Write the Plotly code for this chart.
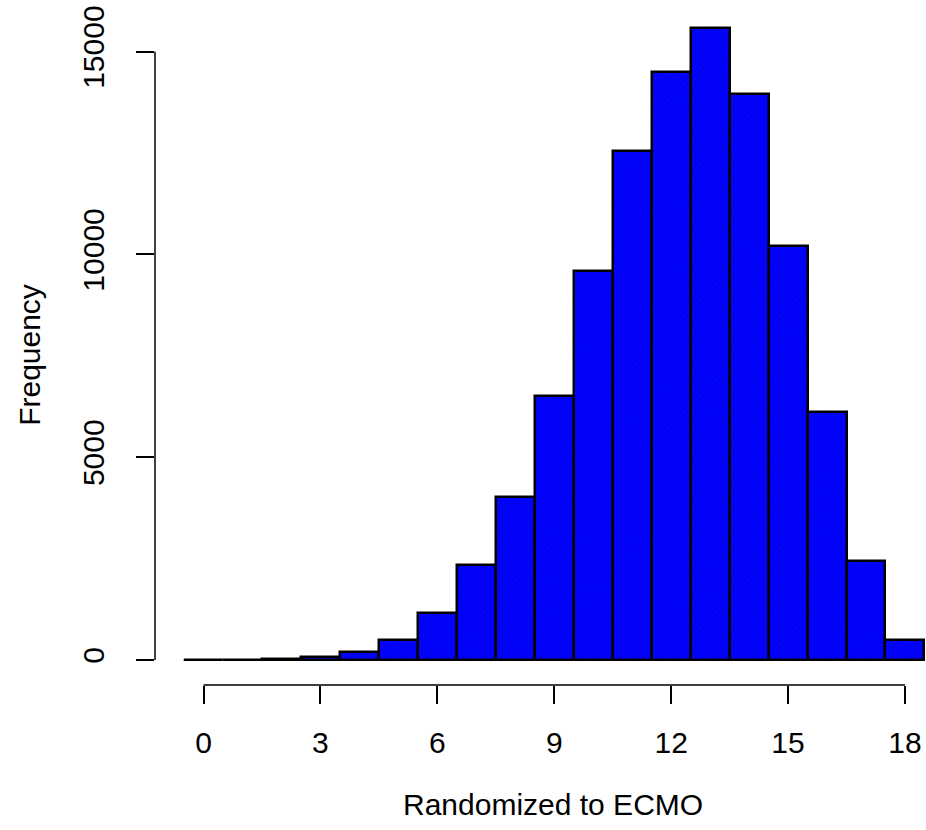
import plotly.graph_objects as go

# Data
bins = list(range(0, 19))
counts = [3, 8, 20, 65, 190, 488, 1163, 2353, 4021, 6500, 9580,
          12553, 14500, 15591, 13958, 10196, 6115, 2434, 505]
x_ticks = [0, 3, 6, 9, 12, 15, 18]
y_ticks = [0, 5000, 10000, 15000]
x_title = "Randomized to ECMO"
y_title = "Frequency"

FONT = "Liberation Sans, Arial, Helvetica, sans-serif"

fig = go.Figure()
fig.add_trace(go.Bar(
    x=bins, y=counts, width=1,
    marker=dict(
        color="#0000ff",
        line=dict(color="black", width=2.5),
        pattern=dict(shape="/", fgcolor="#2020a0", bgcolor="#0000ff",
                     size=4, solidity=0.2),
    ),
    showlegend=False, hoverinfo="skip",
))

W, H = 926, 830
L, R, T, B = 155, 0, 2, 145

fig.update_layout(
    width=W, height=H,
    margin=dict(l=L, r=R, t=T, b=B),
    plot_bgcolor="white", paper_bgcolor="white",
    font=dict(family=FONT, size=30, color="black"),
    bargap=0,
    xaxis=dict(range=[-1.245, 18.54], tickvals=x_ticks, ticks="outside",
               ticklen=18, tickwidth=1.5, tickcolor="black",
               showgrid=False, zeroline=False, showline=False,
               ticklabelstandoff=13),
    yaxis=dict(range=[-616, 16224], tickvals=y_ticks,
               ticktext=[str(v) for v in y_ticks], ticks="outside",
               ticklen=18, tickwidth=1.5, tickcolor="black", tickangle=-90,
               showgrid=False, zeroline=False, showline=False,
               ticklabelstandoff=20),
    shapes=[
        dict(type="line", xref="paper", yref="y", x0=0, x1=0,
             y0=y_ticks[0], y1=y_ticks[-1], line=dict(color="black", width=1.5)),
        dict(type="line", xref="x", yref="paper", x0=x_ticks[0], x1=x_ticks[-1],
             y0=0, y1=0, line=dict(color="black", width=1.5)),
    ],
    annotations=[
        dict(text=x_title, xref="paper", yref="paper", x=0.516, y=-0.175,
             showarrow=False, font=dict(size=30), xanchor="center", yanchor="middle"),
        dict(text=y_title, xref="paper", yref="paper", x=-0.162, y=0.4835,
             showarrow=False, font=dict(size=30), textangle=-90,
             xanchor="center", yanchor="middle"),
    ],
)

fig.write_html("out.html")
